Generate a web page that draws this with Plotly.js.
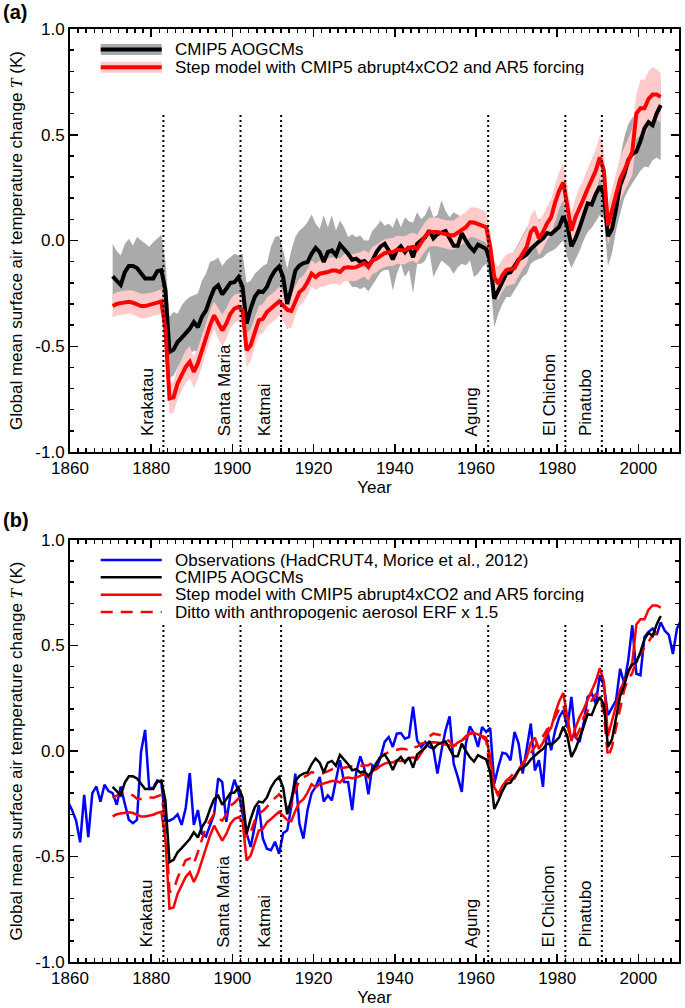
<!DOCTYPE html>
<html><head><meta charset="utf-8">
<script src="https://cdn.plot.ly/plotly-3.0.1.min.js"></script>
<style>html,body{margin:0;padding:0;background:#fff}</style>
</head><body>
<div id="chart" style="width:685px;height:1008px"></div>
<script>
// ---------------- DATA (annual means, K) ----------------
const modelFirstYear = 1870;   // model series 1870..2005
const obsFirstYear = 1859;     // observations 1859..2012

// CMIP5 AOGCM multi-model mean
const cmip = [
 -0.17,-0.19,-0.21,-0.15,-0.12,-0.12,-0.13,-0.155,-0.18,-0.18,
 -0.18,-0.145,-0.14,-0.235,-0.527,-0.516,-0.48,-0.46,-0.437,-0.417,
 -0.385,-0.41,-0.36,-0.33,-0.275,-0.228,-0.212,-0.255,-0.228,-0.2,
 -0.197,-0.173,-0.22,-0.393,-0.322,-0.267,-0.24,-0.244,-0.22,-0.173,
 -0.142,-0.123,-0.173,-0.3,-0.228,-0.142,-0.118,-0.107,-0.102,-0.063,
 -0.035,-0.055,-0.102,-0.055,-0.047,-0.07,-0.019,-0.04,-0.063,-0.091,
 -0.086,-0.102,-0.097,-0.118,-0.094,-0.055,-0.028,-0.016,-0.047,-0.09,
 -0.047,-0.028,-0.055,-0.03,-0.079,-0.016,0.0,0.016,0.047,0.01,
 0.03,0.04,0.045,0.01,-0.025,-0.025,0.035,0.0,-0.03,-0.05,
 -0.02,-0.03,-0.04,-0.1,-0.275,-0.236,-0.19,-0.155,-0.15,-0.12,
 -0.09,-0.08,-0.065,-0.04,-0.02,-0.005,0.01,0.035,0.03,0.045,
 0.065,0.115,0.07,-0.028,0.01,0.06,0.115,0.175,0.17,0.22,
 0.255,0.22,0.02,0.055,0.15,0.26,0.31,0.38,0.41,0.42,
 0.47,0.53,0.56,0.545,0.6,0.64
];
// CMIP5 range (upper / lower edge of grey band)
const cmipHi = [
 -0.016,-0.05,-0.07,-0.016,0.008,-0.024,0.016,0.0,-0.016,-0.03,
 -0.008,0.008,0.027,-0.1,-0.36,-0.338,-0.346,-0.307,-0.283,-0.267,
 -0.26,-0.25,-0.19,-0.157,-0.1,-0.094,-0.08,-0.12,-0.094,-0.08,
 -0.063,-0.07,-0.063,-0.2,-0.19,-0.157,-0.14,-0.12,-0.11,-0.03,
 0.016,0.024,-0.047,-0.134,-0.047,0.016,0.047,0.063,0.086,0.123,
 0.079,0.055,0.118,0.063,0.118,0.047,0.094,0.063,0.016,0.03,
 0.016,0.024,0.0,0.0,0.047,0.066,0.094,0.07,0.08,0.06,
 0.11,0.063,0.11,0.09,0.085,0.134,0.1,0.12,0.165,0.11,
 0.12,0.19,0.14,0.11,0.134,0.12,0.11,0.13,0.14,0.1,
 0.12,0.11,0.11,0.03,-0.126,-0.126,-0.094,-0.07,-0.08,-0.047,
 -0.01,0.02,0.06,0.08,0.09,0.1,0.11,0.14,0.157,0.18,
 0.2,0.25,0.22,0.11,0.14,0.18,0.22,0.26,0.29,0.33,
 0.377,0.33,0.15,0.2,0.3,0.393,0.487,0.55,0.58,0.6,
 0.645,0.67,0.69,0.7,0.72,0.755
];
const cmipLo = [
 -0.3,-0.31,-0.32,-0.28,-0.27,-0.27,-0.28,-0.29,-0.31,-0.31,
 -0.3,-0.29,-0.28,-0.4,-0.65,-0.64,-0.6,-0.58,-0.56,-0.54,
 -0.52,-0.53,-0.49,-0.46,-0.41,-0.37,-0.35,-0.38,-0.36,-0.33,
 -0.33,-0.31,-0.35,-0.52,-0.46,-0.4,-0.37,-0.37,-0.35,-0.31,
 -0.28,-0.27,-0.3,-0.42,-0.38,-0.3,-0.27,-0.25,-0.24,-0.2,
 -0.18,-0.19,-0.22,-0.19,-0.18,-0.2,-0.16,-0.17,-0.19,-0.22,
 -0.22,-0.23,-0.22,-0.24,-0.21,-0.18,-0.15,-0.14,-0.14,-0.236,
 -0.157,-0.11,-0.173,-0.14,-0.25,-0.11,-0.11,-0.095,-0.047,-0.173,
 -0.13,-0.095,-0.11,-0.126,-0.157,-0.126,-0.11,-0.118,-0.095,-0.173,
 -0.157,-0.126,-0.11,-0.189,-0.41,-0.346,-0.3,-0.267,-0.267,-0.236,
 -0.2,-0.173,-0.157,-0.11,-0.094,-0.087,-0.08,-0.06,-0.05,-0.04,
 -0.02,0.0,-0.08,-0.13,-0.09,-0.05,0.0,0.04,0.06,0.09,
 0.12,0.1,-0.12,-0.06,0.047,0.126,0.2,0.24,0.27,0.3,
 0.33,0.35,0.346,0.38,0.393,0.38
];
// Step model with CMIP5 abrupt4xCO2 and AR5 forcing
const step = [
 -0.31,-0.3,-0.296,-0.294,-0.29,-0.294,-0.303,-0.31,-0.31,-0.306,
 -0.302,-0.294,-0.288,-0.42,-0.747,-0.742,-0.676,-0.637,-0.597,-0.574,
 -0.621,-0.58,-0.519,-0.456,-0.4,-0.354,-0.393,-0.425,-0.393,-0.346,
 -0.322,-0.314,-0.33,-0.519,-0.495,-0.432,-0.377,-0.37,-0.338,-0.322,
 -0.307,-0.288,-0.307,-0.327,-0.333,-0.283,-0.244,-0.228,-0.197,-0.157,
 -0.173,-0.157,-0.154,-0.149,-0.142,-0.142,-0.149,-0.129,-0.126,-0.129,
 -0.126,-0.118,-0.107,-0.126,-0.094,-0.086,-0.07,-0.06,-0.055,-0.055,
 -0.044,-0.047,-0.047,-0.035,-0.03,-0.04,-0.008,0.02,0.04,0.042,
 0.04,0.035,0.028,0.026,0.024,0.04,0.05,0.063,0.086,0.085,
 0.079,0.07,0.063,-0.03,-0.173,-0.204,-0.165,-0.14,-0.134,-0.13,
 -0.094,-0.06,-0.03,0.04,0.063,0.01,0.04,0.08,0.11,0.18,
 0.236,0.275,0.17,0.047,0.11,0.16,0.197,0.244,0.29,0.33,
 0.393,0.33,0.07,0.14,0.22,0.29,0.33,0.37,0.42,0.6,
 0.625,0.625,0.67,0.69,0.69,0.68
];
const stepHi = [
 -0.255,-0.245,-0.24,-0.238,-0.235,-0.238,-0.245,-0.252,-0.252,-0.25,
 -0.245,-0.238,-0.23,-0.34,-0.67,-0.67,-0.6,-0.56,-0.52,-0.5,
 -0.55,-0.51,-0.45,-0.39,-0.33,-0.29,-0.32,-0.35,-0.32,-0.28,
 -0.255,-0.25,-0.26,-0.44,-0.42,-0.36,-0.31,-0.3,-0.27,-0.255,
 -0.24,-0.22,-0.235,-0.26,-0.265,-0.215,-0.18,-0.165,-0.135,-0.095,
 -0.11,-0.095,-0.09,-0.085,-0.08,-0.08,-0.085,-0.065,-0.06,-0.065,
 -0.06,-0.055,-0.045,-0.06,-0.03,-0.02,-0.005,0.005,0.01,0.012,
 0.022,0.02,0.02,0.032,0.037,0.028,0.06,0.088,0.108,0.11,
 0.108,0.103,0.096,0.095,0.094,0.11,0.12,0.133,0.156,0.157,
 0.152,0.143,0.137,0.045,-0.1,-0.13,-0.09,-0.065,-0.058,-0.053,
 -0.017,0.018,0.05,0.12,0.145,0.09,0.12,0.16,0.195,0.268,
 0.325,0.365,0.26,0.135,0.2,0.252,0.29,0.34,0.388,0.43,
 0.495,0.43,0.165,0.24,0.32,0.395,0.44,0.48,0.53,0.69,
 0.76,0.76,0.8,0.82,0.81,0.79
];
const stepLo = [
 -0.365,-0.355,-0.352,-0.35,-0.345,-0.35,-0.36,-0.368,-0.368,-0.362,
 -0.358,-0.35,-0.345,-0.5,-0.82,-0.815,-0.75,-0.71,-0.675,-0.65,
 -0.695,-0.655,-0.59,-0.525,-0.47,-0.42,-0.465,-0.5,-0.465,-0.415,
 -0.39,-0.38,-0.4,-0.6,-0.57,-0.505,-0.445,-0.44,-0.405,-0.39,
 -0.375,-0.355,-0.38,-0.41,-0.415,-0.355,-0.31,-0.292,-0.26,-0.22,
 -0.235,-0.22,-0.218,-0.212,-0.205,-0.205,-0.212,-0.193,-0.19,-0.193,
 -0.19,-0.18,-0.17,-0.19,-0.158,-0.15,-0.135,-0.125,-0.12,-0.12,
 -0.11,-0.112,-0.112,-0.1,-0.097,-0.107,-0.075,-0.048,-0.028,-0.026,
 -0.028,-0.033,-0.04,-0.042,-0.044,-0.03,-0.02,-0.007,0.016,0.015,
 0.008,-0.002,-0.01,-0.105,-0.25,-0.283,-0.24,-0.215,-0.21,-0.205,
 -0.17,-0.135,-0.11,-0.04,-0.017,-0.07,-0.04,0.0,0.03,0.095,
 0.15,0.19,0.085,-0.04,0.025,0.07,0.105,0.15,0.195,0.235,
 0.3,0.235,-0.02,0.05,0.125,0.19,0.23,0.27,0.31,0.48,
 0.5,0.49,0.54,0.565,0.57,0.56
];
// Ditto with anthropogenic aerosol ERF x 1.5
const stepAero15 = [
 -0.223,-0.21,-0.2,-0.2,-0.203,-0.21,-0.226,-0.228,-0.225,-0.22,
 -0.222,-0.215,-0.208,-0.33,-0.668,-0.66,-0.6,-0.56,-0.518,-0.51,
 -0.534,-0.479,-0.42,-0.36,-0.33,-0.297,-0.32,-0.33,-0.3,-0.26,
 -0.245,-0.225,-0.24,-0.41,-0.385,-0.33,-0.297,-0.285,-0.265,-0.24,
 -0.222,-0.205,-0.23,-0.27,-0.26,-0.185,-0.14,-0.125,-0.115,-0.1,
 -0.105,-0.11,-0.105,-0.095,-0.085,-0.078,-0.082,-0.08,-0.076,-0.072,
 -0.068,-0.07,-0.07,-0.068,-0.055,-0.044,-0.03,-0.015,-0.005,0.003,
 0.006,0.011,0.01,0.003,0.019,0.02,0.035,0.04,0.07,0.082,
 0.078,0.074,0.06,0.045,0.025,0.03,0.05,0.07,0.082,0.082,
 0.075,0.066,0.05,-0.1,-0.17,-0.215,-0.17,-0.14,-0.123,-0.1,
 -0.085,-0.06,-0.04,-0.01,0.02,0.05,0.07,0.1,0.12,0.16,
 0.2,0.22,0.12,0.05,0.06,0.1,0.16,0.19,0.24,0.27,
 0.26,0.18,-0.03,0.02,0.114,0.2,0.29,0.34,0.37,0.43,
 0.46,0.49,0.517,0.548,0.56,0.564
];
// Observations (HadCRUT4, Morice et al., 2012)
const obs = [
 -0.24,
 -0.28,-0.33,-0.433,-0.208,-0.408,-0.2,-0.168,-0.24,-0.16,-0.19,
 -0.2,-0.255,-0.168,-0.25,-0.326,-0.342,-0.326,-0.003,0.1,-0.175,
 -0.175,-0.14,-0.15,-0.33,-0.33,-0.32,-0.3,-0.35,-0.27,-0.105,
 -0.35,-0.28,-0.392,-0.405,-0.35,-0.3,-0.13,-0.147,-0.336,-0.21,
 -0.136,-0.194,-0.297,-0.39,-0.455,-0.35,-0.257,-0.415,-0.463,-0.47,
 -0.43,-0.487,-0.39,-0.376,-0.265,-0.107,-0.344,-0.415,-0.28,-0.2,
 -0.17,-0.123,-0.24,-0.21,-0.234,-0.139,-0.044,-0.147,-0.147,-0.28,
 -0.1,-0.025,-0.084,-0.205,-0.068,-0.08,-0.03,0.043,0.066,0.019,
 0.082,0.085,0.058,0.066,0.21,0.05,0.019,0.043,0.019,0.011,
 -0.107,0.003,0.098,0.164,-0.06,-0.123,-0.194,0.035,0.117,0.082,
 0.019,0.114,0.09,0.109,-0.155,-0.076,-0.008,-0.013,-0.044,0.09,
 0.035,-0.107,0.01,0.13,-0.092,-0.044,-0.17,0.106,0.003,0.098,
 0.16,0.193,0.11,0.256,0.066,0.043,0.13,0.256,0.272,0.224,
 0.359,0.31,0.17,0.209,0.24,0.39,0.32,0.43,0.596,0.366,
 0.359,0.54,0.564,0.58,0.55,0.61,0.57,0.55,0.46,0.58,
 0.62,0.5,0.55
];
// Volcanic eruptions
const volcanoNames = ['Krakatau','Santa Maria','Katmai','Agung','El Chichon','Pinatubo'];
const volcanoYears = [1883, 1902, 1912, 1963, 1982, 1991];
const yTickVals = [-1, -0.5, 0, 0.5, 1];
const yTickText = ['-1.0', '-0.5', '0.0', '0.5', '1.0'];

// ---------------- BUILD ----------------
const modelX = cmip.map((_, i) => modelFirstYear + i + 0.5);   // annual means at mid-year
const obsX = obs.map((_, i) => obsFirstYear + i + 0.5);

const FONT = 'Liberation Sans, Arial, sans-serif';
const GREY = '#aaaaaa', PINK = '#ffcaca';
const L = 70, R = 6, T = 29, B = 46, W = 685, H = 1008;
const plotH = H - T - B;
const pxX = px => (px - L) / (W - L - R);
const pxY = py => (H - B - py) / plotH;

const noHover = {hoverinfo: 'skip', showlegend: false, mode: 'lines'};
const traces = [
  Object.assign({x: modelX, y: cmipLo, line: {width: 0}, xaxis: 'x', yaxis: 'y'}, noHover),
  Object.assign({x: modelX, y: cmipHi, line: {width: 0}, fill: 'tonexty', fillcolor: GREY, xaxis: 'x', yaxis: 'y'}, noHover),
  Object.assign({x: modelX, y: stepLo, line: {width: 0}, xaxis: 'x', yaxis: 'y'}, noHover),
  Object.assign({x: modelX, y: stepHi, line: {width: 0}, fill: 'tonexty', fillcolor: PINK, xaxis: 'x', yaxis: 'y'}, noHover),
  Object.assign({x: modelX, y: cmip, line: {color: '#000', width: 4}, xaxis: 'x', yaxis: 'y'}, noHover),
  Object.assign({x: modelX, y: step, line: {color: '#ff0000', width: 4}, xaxis: 'x', yaxis: 'y'}, noHover),

  Object.assign({x: obsX, y: obs, line: {color: '#0000ff', width: 2.5}, xaxis: 'x2', yaxis: 'y2'}, noHover),
  Object.assign({x: modelX, y: step, line: {color: '#ff0000', width: 2.5}, xaxis: 'x2', yaxis: 'y2'}, noHover),
  Object.assign({x: modelX, y: stepAero15, line: {color: '#ff0000', width: 2.5, dash: '12px,8px'}, xaxis: 'x2', yaxis: 'y2'}, noHover),
  Object.assign({x: modelX, y: cmip, line: {color: '#000', width: 2.5}, xaxis: 'x2', yaxis: 'y2'}, noHover)
];

const tickFont = {family: FONT, size: 17, color: '#000'};
function xAxis(anchor) {
  return {
    anchor, range: [1860, 2010], tickmode: 'linear', tick0: 1860, dtick: 20,
    ticks: 'inside', ticklen: 8, tickwidth: 1.5, tickcolor: '#000',
    minor: {tick0: 1860, dtick: 2, ticks: 'inside', ticklen: 4, tickwidth: 1.5, tickcolor: '#000', showgrid: false},
    showline: true, linewidth: 2, linecolor: '#000', mirror: 'ticks',
    showgrid: false, zeroline: false, tickfont: tickFont, automargin: false,
    title: {text: 'Year', font: tickFont, standoff: 2}
  };
}
function yAxis(anchor, domain) {
  return {
    anchor, domain, range: [-1, 1], tickmode: 'array', tickvals: yTickVals, ticktext: yTickText,
    ticks: 'inside', ticklen: 8, tickwidth: 1.5, tickcolor: '#000',
    minor: {tick0: 0, dtick: 0.1, ticks: 'inside', ticklen: 4, tickwidth: 1.5, tickcolor: '#000', showgrid: false},
    showline: true, linewidth: 2, linecolor: '#000', mirror: 'ticks',
    showgrid: false, zeroline: false, tickfont: tickFont, automargin: false,
    title: {text: 'Global mean surface air temperature change <span style="font-family:\'Liberation Serif\'"><i>T</i></span> (K)', font: tickFont, standoff: 8}
  };
}

const shapes = [], annotations = [];
// volcano markers
[['x', 'y', -0.93], ['x2', 'y2', -0.937]].forEach(([xr, yr, ylab]) => {
  volcanoYears.forEach((yr0, i) => {
    shapes.push({type: 'line', xref: xr, yref: yr, x0: yr0, x1: yr0, y0: -1, y1: 0.6,
      line: {color: '#000', width: 2, dash: '2px,3px'}});
    annotations.push({xref: xr, yref: yr, x: yr0, y: ylab, text: volcanoNames[i], textangle: -90,
      xanchor: 'right', yanchor: 'bottom', xshift: -6, showarrow: false, borderpad: 0,
      font: {family: FONT, size: 17, color: '#000'}});
  });
});

// manual legends (pixel positions)
const legX0 = 100.7, legX1 = 161.7, legTextX = 174;
function legText(py, text) {
  annotations.push({xref: 'paper', yref: 'paper', x: pxX(legTextX), y: pxY(py), text, showarrow: false,
    xanchor: 'left', yanchor: 'middle', height: 15, valign: 'middle', borderpad: 0,
    font: {family: FONT, size: 17, color: '#000'}});
}
function legLine(py, color, width, dash) {
  shapes.push({type: 'line', xref: 'paper', yref: 'paper', x0: pxX(legX0), x1: pxX(legX1), y0: pxY(py), y1: pxY(py),
    line: {color, width, dash: dash || 'solid'}});
}
function legBand(py, color) {
  shapes.push({type: 'rect', xref: 'paper', yref: 'paper', x0: pxX(legX0), x1: pxX(legX1), y0: pxY(py - 5.5), y1: pxY(py + 5.5),
    fillcolor: color, line: {width: 0}});
}
legBand(49.5, GREY); legLine(49.5, '#000', 4); legText(49.5, 'CMIP5 AOGCMs');
legBand(67.2, PINK); legLine(67.2, '#ff0000', 4); legText(67.2, 'Step model with CMIP5 abrupt4xCO2 and AR5 forcing');

legLine(560, '#0000ff', 2.5); legText(560, 'Observations (HadCRUT4, Morice et al., 2012)');
legLine(577.3, '#000', 2.5); legText(577.3, 'CMIP5 AOGCMs');
legLine(594.7, '#ff0000', 2.5); legText(594.7, 'Step model with CMIP5 abrupt4xCO2 and AR5 forcing');
legLine(612, '#ff0000', 2.5, '12px,8px'); legText(612, 'Ditto with anthropogenic aerosol ERF x 1.5');

// panel letters
annotations.push({xref: 'paper', yref: 'paper', x: pxX(1), y: pxY(12), text: '<b>(a)</b>', showarrow: false,
  xanchor: 'left', yanchor: 'middle', font: {family: FONT, size: 20, color: '#000'}});
annotations.push({xref: 'paper', yref: 'paper', x: pxX(1), y: pxY(520), text: '<b>(b)</b>', showarrow: false,
  xanchor: 'left', yanchor: 'middle', font: {family: FONT, size: 20, color: '#000'}});

const layout = {
  width: W, height: H, margin: {l: L, r: R, t: T, b: B},
  paper_bgcolor: '#fff', plot_bgcolor: '#fff', showlegend: false, hovermode: false,
  xaxis: xAxis('y'), yaxis: yAxis('x', [pxY(452), 1]),
  xaxis2: xAxis('y2'), yaxis2: yAxis('x2', [0, pxY(540)]),
  shapes, annotations
};
Plotly.newPlot('chart', traces, layout, {staticPlot: true, displayModeBar: false});
</script>
</body></html>
